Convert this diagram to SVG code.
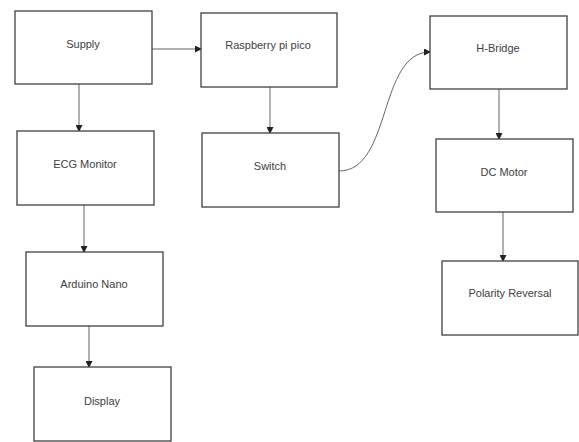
<svg xmlns="http://www.w3.org/2000/svg" width="579" height="442" viewBox="0 0 579 442">
<style>
.box{fill:#fff;stroke:#404040;stroke-width:1.3}
.lbl{font-family:"Liberation Sans",Arial,sans-serif;font-size:11px;fill:#404040;text-anchor:middle;dominant-baseline:central}
.con{fill:none;stroke:#555;stroke-width:0.9}
</style>
<defs>
<marker id="ah" markerWidth="7" markerHeight="7" refX="6" refY="3.5" orient="auto" markerUnits="userSpaceOnUse">
<path d="M0,0 L7,3.5 L0,7 Z" fill="#222"/>
</marker>
</defs>
<rect width="579" height="442" fill="#fff"/>
<g id="connectors">
<path class="con" d="M79,84 L79,131" marker-end="url(#ah)"/>
<path class="con" d="M152,49 L201,49" marker-end="url(#ah)"/>
<path class="con" d="M84,205 L84,252" marker-end="url(#ah)"/>
<path class="con" d="M89,326 L89,367" marker-end="url(#ah)"/>
<path class="con" d="M270,87 L270,133" marker-end="url(#ah)"/>
<path class="con" d="M339,171 C392,171 378,52 430,52" marker-end="url(#ah)"/>
<path class="con" d="M499,89 L499,139" marker-end="url(#ah)"/>
<path class="con" d="M503,212 L503,261" marker-end="url(#ah)"/>
</g>
<g id="supply"><rect class="box" x="15" y="11" width="137" height="73"/><text class="lbl" x="83" y="44">Supply</text></g>
<g id="ecg"><rect class="box" x="17" y="131" width="137" height="74"/><text class="lbl" x="85" y="164">ECG Monitor</text></g>
<g id="arduino"><rect class="box" x="26" y="252" width="137" height="74"/><text class="lbl" x="94" y="284">Arduino Nano</text></g>
<g id="display"><rect class="box" x="34" y="367" width="137" height="74"/><text class="lbl" x="102" y="401">Display</text></g>
<g id="pico"><rect class="box" x="201" y="13" width="136" height="74"/><text class="lbl" x="268" y="45">Raspberry pi pico</text></g>
<g id="switch"><rect class="box" x="202" y="133" width="137" height="74"/><text class="lbl" x="270" y="166">Switch</text></g>
<g id="hbridge"><rect class="box" x="430" y="16" width="137" height="73"/><text class="lbl" x="498" y="48">H-Bridge</text></g>
<g id="dcmotor"><rect class="box" x="436" y="139" width="137" height="73"/><text class="lbl" x="504" y="172">DC Motor</text></g>
<g id="polarity"><rect class="box" x="442" y="261" width="136" height="74"/><text class="lbl" x="510" y="293">Polarity Reversal</text></g>
</svg>
